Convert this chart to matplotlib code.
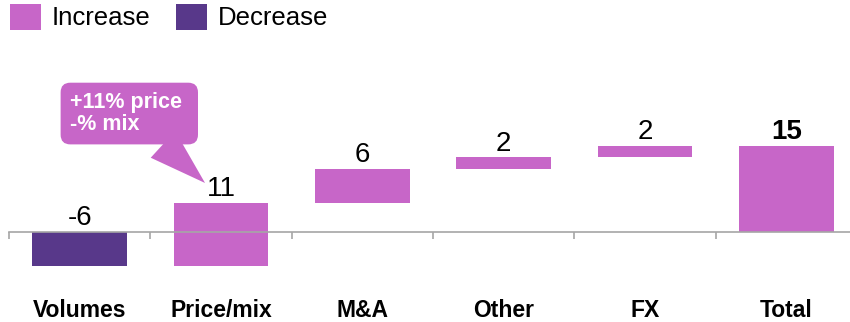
import matplotlib
matplotlib.use('Agg')
import matplotlib.pyplot as plt
from matplotlib.patches import Patch
import numpy as np

plt.rcParams['font.family'] = ['Liberation Sans', 'DejaVu Sans']

# data
categories = ['Volumes', 'Price/mix', 'M&A', 'Other', 'FX', 'Total']
changes = [-6, 11, 6, 2, 2]
total = 15
callout_lines = ['+11% price ', '-% mix']

inc_color = '#C766C8'
dec_color = '#58388A'
axis_color = '#A6A6A6'

# waterfall bottoms / heights
ends = np.cumsum(changes)
starts = ends - np.array(changes)
bottoms = list(starts) + [0]
heights = list(changes) + [total]
colors = [inc_color if v >= 0 else dec_color for v in changes] + [inc_color]
labels = [str(v) for v in changes] + [str(total)]

fig = plt.figure(figsize=(8.5, 3.22), dpi=100)
# y scale: baseline at 232 px from top, ~5.73 px per unit
ymin, ymax = -8, 20
ax = fig.add_axes([9 / 850, 0.1373, 848 / 850, 0.4981])

x = np.arange(len(categories)) + 0.5
ax.bar(x, heights, bottom=bottoms, width=0.67, color=colors, zorder=2)

ax.set_xlim(0, len(categories))
ax.set_ylim(ymin, ymax)

# axis line at zero with ticks at category boundaries
for s in ['top', 'right', 'left']:
    ax.spines[s].set_visible(False)
ax.spines['bottom'].set_position(('data', 0))
ax.spines['bottom'].set_color(axis_color)
ax.spines['bottom'].set_linewidth(1.2)
ax.spines['bottom'].set_zorder(3)
ax.set_xticks(np.arange(len(categories) + 1))
ax.set_xticklabels([])
ax.tick_params(axis='x', direction='out', length=5, width=1.2, color=axis_color)
ax.set_yticks([])

# value labels
for i, (b, h, lab) in enumerate(zip(bottoms, heights, labels)):
    top = max(b, b + h)
    bold = (i == len(categories) - 1)
    ax.annotate(lab, (x[i], top), xytext=(0, 5), textcoords='offset points',
                ha='center', va='baseline', fontsize=20,
                fontweight='bold' if bold else 'normal', color='black')

# category labels
for xi, cat in zip(x, categories):
    ax.text(xi, -0.205, cat, transform=ax.get_xaxis_transform(),
            ha='center', va='center', fontsize=16.5, fontweight='bold')

# callout for price/mix
ax.annotate('\n'.join(callout_lines), xy=(x[1] - 0.113, ends[1] + 3.55),
            xytext=(-97, 50), textcoords='offset points',
            ha='left', va='center', fontsize=15.5, fontweight='bold', color='white',
            linespacing=1.02,
            bbox=dict(boxstyle='round,pad=0.45,rounding_size=0.45', fc=inc_color, ec='none'),
            arrowprops=dict(arrowstyle='wedge,tail_width=1.68,shrink_factor=0.5',
                            fc=inc_color, ec='none', shrinkA=0, shrinkB=0))

# legend
handles = [Patch(facecolor=inc_color, label='Increase'),
           Patch(facecolor=dec_color, label='Decrease')]
fig.legend(handles=handles, loc='upper left', bbox_to_anchor=(10 / 850, 1 - 4 / 322),
           ncol=2, frameon=False, fontsize=18.5, borderpad=0, borderaxespad=0,
           handlelength=1.2, handleheight=1.15, handletextpad=0.42, columnspacing=1.0)

fig.savefig('out.png', dpi=100)
